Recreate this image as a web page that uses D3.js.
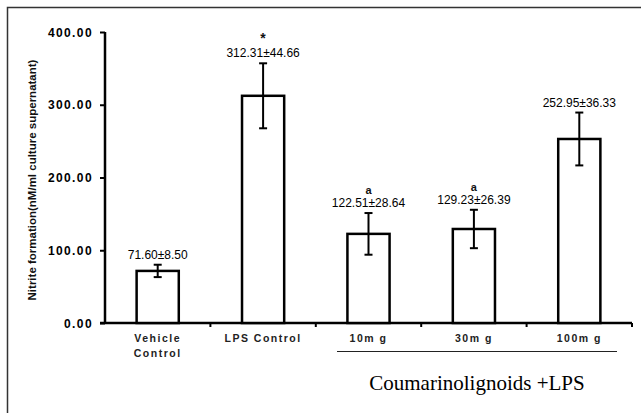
<!DOCTYPE html>
<html>
<head>
<meta charset="utf-8">
<script src="https://cdn.jsdelivr.net/npm/d3@7"></script>
<style>
  body { margin: 0; background: #fff; }
  svg { display: block; }
</style>
</head>
<body>
<div class="chart"></div>
<script>
// data
var groups = ["Vehicle Control", "LPS Control", "10mg", "30mg", "100mg"];
var groupLabels = [["Vehicle", "Control"], ["LPS Control"], ["10m g"], ["30m g"], ["100m g"]];
var means = [71.60, 312.31, 122.51, 129.23, 252.95];
var errs = [8.50, 44.66, 28.64, 26.39, 36.33];
var marks = ["", "*", "a", "a", ""];
var yTicks = [0, 100, 200, 300, 400];

var svgWidth = 641;
var svgHeight = 413;

var svg = d3.select(".chart")
  .append("svg")
  .attr("width", svgWidth)
  .attr("height", svgHeight);

// frame (runs off right and bottom edges)
svg.append("rect")
  .attr("x", 7.5)
  .attr("y", 7.5)
  .attr("width", 700)
  .attr("height", 500)
  .attr("fill", "none")
  .attr("stroke", "#333")
  .attr("stroke-width", 1.5);

var x0 = 105, x1 = 632, yTop = 32, yBot = 323;

var xScale = d3.scaleBand()
  .domain(groups)
  .range([x0, x1])
  .padding(0);

var yScale = d3.scaleLinear()
  .domain([0, 400])
  .range([yBot, yTop]);

var barW = xScale.bandwidth() * 0.4;

// y axis
var leftAxis = d3.axisLeft(yScale)
  .tickValues(yTicks)
  .tickFormat(d3.format(".2f"))
  .tickSize(5)
  .tickPadding(7);

var yG = svg.append("g")
  .attr("transform", `translate(${x0}, 0)`)
  .call(leftAxis);
yG.select(".domain").attr("stroke", "#000").attr("stroke-width", 2.5)
  .attr("d", `M0,${yTop}V${yBot}`);
yG.selectAll(".tick line").attr("stroke", "#000").attr("stroke-width", 2);
yG.selectAll(".tick text")
  .attr("fill", "#000")
  .style("font-family", "Liberation Sans, Arial, sans-serif")
  .style("font-size", "12px")
  .style("font-weight", "bold")
  .style("letter-spacing", "1.4px")
  .attr("dy", "0.35em");

// x axis line + ticks at band boundaries
svg.append("line")
  .attr("x1", x0 - 5).attr("x2", x1)
  .attr("y1", yBot).attr("y2", yBot)
  .attr("stroke", "#000").attr("stroke-width", 2.5);

groups.forEach(function(g) {
  var xe = xScale(g) + xScale.bandwidth();
  svg.append("line")
    .attr("x1", xe).attr("x2", xe)
    .attr("y1", yBot).attr("y2", yBot + 4)
    .attr("stroke", "#000").attr("stroke-width", 2);
});

// bars
svg.selectAll(".bar")
  .data(groups)
  .enter()
  .append("rect")
  .attr("class", "bar")
  .attr("x", (d, i) => xScale(d) + xScale.bandwidth() / 2 - barW / 2)
  .attr("y", (d, i) => yScale(means[i]))
  .attr("width", barW)
  .attr("height", (d, i) => yBot - yScale(means[i]))
  .attr("fill", "#fff")
  .attr("stroke", "#000")
  .attr("stroke-width", 2.5);

// error bars
groups.forEach(function(g, i) {
  var cx = xScale(g) + xScale.bandwidth() / 2;
  var hi = yScale(means[i] + errs[i]);
  var lo = yScale(means[i] - errs[i]);
  var eg = svg.append("g").attr("stroke", "#000").attr("stroke-width", 2);
  eg.append("line").attr("x1", cx).attr("x2", cx).attr("y1", hi).attr("y2", lo);
  eg.append("line").attr("x1", cx - 4).attr("x2", cx + 4).attr("y1", hi).attr("y2", hi);
  eg.append("line").attr("x1", cx - 4).attr("x2", cx + 4).attr("y1", lo).attr("y2", lo);

  // value label
  svg.append("text")
    .attr("x", cx)
    .attr("y", hi - 6)
    .attr("text-anchor", "middle")
    .attr("fill", "#000")
    .style("font-family", "Liberation Sans, Arial, sans-serif")
    .style("font-size", "12px")
    .text(means[i].toFixed(2) + "\u00b1" + errs[i].toFixed(2));

  if (marks[i]) {
    var star = marks[i] == "*";
    svg.append("text")
      .attr("x", cx)
      .attr("y", hi - 6 - (star ? 14 : 13))
      .attr("text-anchor", "middle")
      .attr("fill", "#111")
      .style("font-family", "Liberation Sans, Arial, sans-serif")
      .style("font-size", star ? "14px" : "11px")
      .style("font-weight", "bold")
      .text(marks[i]);
  }

  // category label
  var t = svg.append("text")
    .attr("x", cx)
    .attr("y", 342)
    .attr("text-anchor", "middle")
    .attr("fill", "#222")
    .style("font-family", "Liberation Sans, Arial, sans-serif")
    .style("font-size", "10.5px")
    .style("font-weight", "bold")
    .style("letter-spacing", "1.5px");
  groupLabels[i].forEach(function(s, k) {
    t.append("tspan").attr("x", cx).attr("dy", k == 0 ? 0 : 15).text(s);
  });
});

// bracket line under dose groups
svg.append("line")
  .attr("x1", 337).attr("x2", 617)
  .attr("y1", 351.5).attr("y2", 351.5)
  .attr("stroke", "#222").attr("stroke-width", 1);

svg.append("text")
  .attr("x", 477)
  .attr("y", 390)
  .attr("text-anchor", "middle")
  .attr("fill", "#000")
  .style("font-family", "Liberation Serif, Times New Roman, serif")
  .style("font-size", "21px")
  .text("Coumarinolignoids +LPS");

// y axis title
svg.append("text")
  .attr("transform", "rotate(-90)")
  .attr("x", -180)
  .attr("y", 36)
  .attr("text-anchor", "middle")
  .attr("fill", "#111")
  .style("font-family", "Liberation Sans, Arial, sans-serif")
  .style("font-size", "11.5px")
  .style("font-weight", "bold")
  .text("Nitrite formation(nM/ml culture supernatant)");
</script>
</body>
</html>
